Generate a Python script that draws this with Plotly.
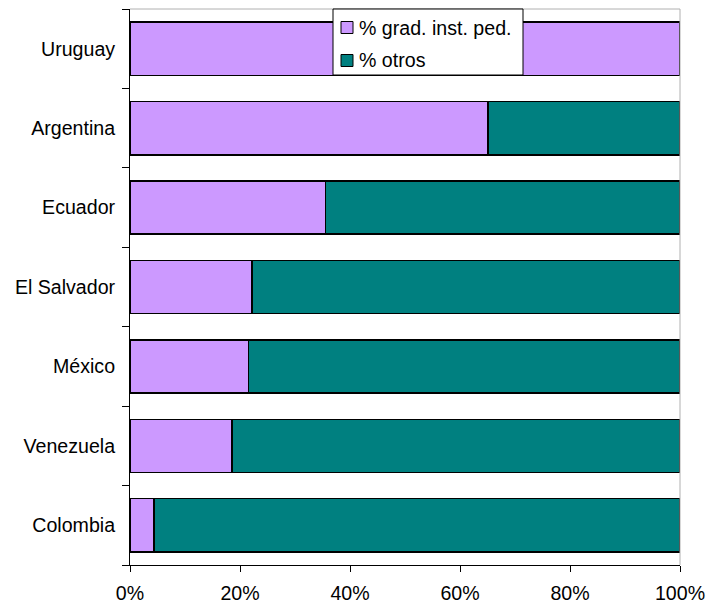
import plotly.graph_objects as go

countries = ["Colombia", "Venezuela", "México", "El Salvador", "Ecuador", "Argentina", "Uruguay"]
grad_ped = [4.4, 18.5, 21.5, 22.2, 35.5, 65.1, 100.0]
otros = [100 - v for v in grad_ped]
x_ticks = [0, 20, 40, 60, 80, 100]
x_tick_labels = ["0%", "20%", "40%", "60%", "80%", "100%"]
series_names = ["% grad. inst. ped.", "% otros"]
series_colors = ["#CC99FF", "#008080"]

font = dict(family="Liberation Sans, Arial, sans-serif", size=19.6, color="black")

W, H = 707, 605
ML, MR, MT, MB = 130, 27, 9, 40
PW, PH = W - ML - MR, H - MT - MB


def px(x):
    return (x - ML) / PW


def py(y):
    return (H - MB - y) / PH


fig = go.Figure()
for name, vals, col in zip(series_names, [grad_ped, otros], series_colors):
    fig.add_trace(go.Bar(
        y=countries, x=vals, orientation="h", name=name,
        marker=dict(color=col, line=dict(color="black", width=1.5)),
    ))

shapes = [
    dict(type="line", xref="paper", yref="paper", x0=0, x1=1, y0=1, y1=1,
         line=dict(color="#B0B0B0", width=1)),
    dict(type="line", xref="paper", yref="paper", x0=1, x1=1, y0=0, y1=1,
         line=dict(color="#B0B0B0", width=1)),
    # legend box
    dict(type="rect", xref="paper", yref="paper",
         x0=px(333), x1=px(523), y0=py(75), y1=py(9),
         fillcolor="white", line=dict(color="black", width=1)),
]
annotations = []
row_centers = [27.5, 60.5]
for name, col, yc in zip(series_names, series_colors, row_centers):
    shapes.append(dict(type="rect", xref="paper", yref="paper",
                       x0=px(341), x1=px(353), y0=py(yc + 6), y1=py(yc - 6),
                       fillcolor=col, line=dict(color="black", width=1)))
    annotations.append(dict(xref="paper", yref="paper", x=px(357), y=py(yc),
                            xanchor="left", yanchor="middle", text=name,
                            showarrow=False, font=dict(size=19.6)))

fig.update_layout(
    barmode="stack",
    bargap=0.33,
    width=W, height=H,
    margin=dict(l=ML, r=MR, t=MT, b=MB),
    plot_bgcolor="white", paper_bgcolor="white",
    font=font,
    showlegend=False,
    xaxis=dict(
        range=[0, 100], tickvals=x_ticks, ticktext=x_tick_labels,
        showgrid=False, zeroline=False, automargin=False,
        showline=True, linecolor="black", linewidth=1,
        ticks="outside", ticklen=6, tickcolor="black",
        ticklabelstandoff=4,
    ),
    yaxis=dict(
        categoryorder="array", categoryarray=countries,
        showgrid=False, zeroline=False, automargin=False,
        showline=True, linecolor="black", linewidth=1,
        ticks="outside", ticklen=7, tickcolor="black", tickson="boundaries",
        ticklabelstandoff=10,
    ),
    shapes=shapes,
    annotations=annotations,
)

fig.write_html("out.html")
